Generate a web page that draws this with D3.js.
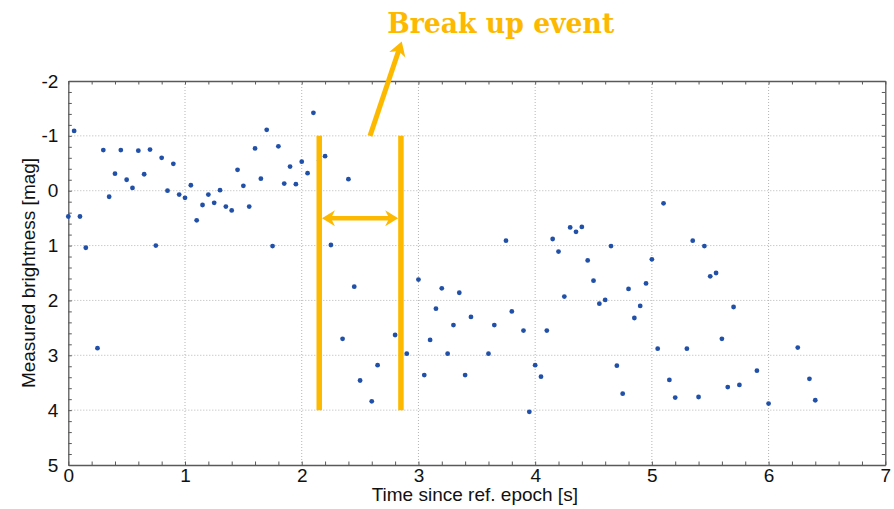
<!DOCTYPE html>
<html>
<head>
<meta charset="utf-8">
<script src="https://cdn.jsdelivr.net/npm/d3@7"></script>
<style>
  html, body { margin: 0; padding: 0; background: #fff; }
  svg { display: block; }
  .tick text { font-family: "Liberation Sans", Arial, sans-serif; }
</style>
</head>
<body>
<svg id="chart" width="894" height="509"></svg>
<script>
// Light curve samples: time since reference epoch [s] and measured magnitude
const times = [
  0.00, 0.05, 0.10, 0.15, 0.25, 0.30, 0.35, 0.40, 0.45, 0.50,
  0.55, 0.60, 0.65, 0.70, 0.75, 0.80, 0.85, 0.90, 0.95, 1.00,
  1.05, 1.10, 1.15, 1.20, 1.25, 1.30, 1.35, 1.40, 1.45, 1.50,
  1.55, 1.60, 1.65, 1.70, 1.75, 1.80, 1.85, 1.90, 1.95, 2.00,
  2.05, 2.10, 2.15, 2.20, 2.25, 2.35, 2.40, 2.45, 2.50, 2.60,
  2.65, 2.80, 2.90, 3.00, 3.05, 3.10, 3.15, 3.20, 3.25, 3.30,
  3.35, 3.40, 3.45, 3.60, 3.65, 3.75, 3.80, 3.90, 3.95, 4.00,
  4.05, 4.10, 4.15, 4.20, 4.25, 4.30, 4.35, 4.40, 4.45, 4.50,
  4.55, 4.60, 4.65, 4.70, 4.75, 4.80, 4.85, 4.90, 4.95, 5.00,
  5.05, 5.10, 5.15, 5.20, 5.30, 5.35, 5.40, 5.45, 5.50, 5.55,
  5.60, 5.65, 5.70, 5.75, 5.90, 6.00, 6.25, 6.35, 6.40
];
const magnitudes = [
  0.47, -1.09, 0.47, 1.04, 2.87, -0.74, 0.11, -0.31, -0.74, -0.20,
  -0.05, -0.73, -0.30, -0.75, 1.00, -0.60, 0.00, -0.49, 0.07, 0.13,
  -0.10, 0.54, 0.26, 0.07, 0.22, -0.01, 0.29, 0.36, -0.38, -0.09,
  0.29, -0.77, -0.22, -1.11, 1.01, -0.81, -0.13, -0.44, -0.12, -0.53,
  -0.32, -1.42, -0.55, -0.63, 0.99, 2.70, -0.21, 1.75, 3.46, 3.84,
  3.18, 2.63, 2.97, 1.62, 3.36, 2.72, 2.15, 1.78, 2.97, 2.45,
  1.86, 3.36, 2.30, 2.97, 2.45, 0.91, 2.20, 2.55, 4.03, 3.18,
  3.39, 2.55, 0.88, 1.11, 1.93, 0.67, 0.75, 0.66, 1.27, 1.64,
  2.06, 1.99, 1.01, 3.19, 3.70, 1.79, 2.32, 2.10, 1.69, 1.25,
  2.88, 0.23, 3.45, 3.77, 2.88, 0.91, 3.76, 1.01, 1.56, 1.50,
  2.70, 3.58, 2.12, 3.54, 3.28, 3.88, 2.86, 3.43, 3.82
];

// Axis ticks
const xTicks = [0, 1, 2, 3, 4, 5, 6, 7];
const yTicks = [-2, -1, 0, 1, 2, 3, 4, 5];
const xTitle = "Time since ref. epoch [s]";
const yTitle = "Measured brightness [mag]";

// Break-up annotation (time window and label)
const breakStart = 2.15;
const breakEnd = 2.85;
const breakMagTop = -1;
const breakMagBottom = 4;
const spanMag = 0.5;
const pointerFrom = [2.585, -1.0];
const pointerTo = [2.857, -2.72];
const breakLabel = "Break up event";
const breakLabelAt = [2.733, -2.88];

const svg = d3.select("#chart");
const W = 894, H = 509;
const margin = { left: 68.3, right: W - 885.3, top: 81, bottom: H - 465 };

const x = d3.scaleLinear().domain([0, 7]).range([margin.left, W - margin.right]);
const y = d3.scaleLinear().domain([-2, 5]).range([margin.top, H - margin.bottom]);

const axisColor = "#595959";
const orange = "#FDB900";
const dotColor = "#2150A8";

// Grid
const grid = svg.append("g").attr("stroke", "#b5b5b5").attr("stroke-width", 1)
  .attr("stroke-dasharray", "1,2");
grid.selectAll("line.gx").data(xTicks.slice(1, -1)).join("line")
  .attr("x1", d => x(d)).attr("x2", d => x(d))
  .attr("y1", y(-2)).attr("y2", y(5));
grid.selectAll("line.gy").data(yTicks.slice(1, -1)).join("line")
  .attr("x1", x(0)).attr("x2", x(7))
  .attr("y1", d => y(d)).attr("y2", d => y(d));

// Inward ticks on all four sides (every 0.2 units)
const xMinor = d3.range(0, 7.001, 0.2).map(v => +v.toFixed(2));
const yMinor = d3.range(-2, 5.001, 0.2).map(v => +v.toFixed(2));
const tickLen = 3.5;

function frameAxis(axis, transform) {
  const g = svg.append("g").attr("transform", transform).call(axis);
  g.selectAll("path, line").attr("stroke", axisColor);
  g.select("path.domain").attr("stroke-width", 1.3);
  g.selectAll("text").remove();
  return g;
}
frameAxis(d3.axisBottom(x).tickValues(xMinor).tickSizeInner(-tickLen).tickSizeOuter(0),
  `translate(0,${y(5)})`);
frameAxis(d3.axisTop(x).tickValues(xMinor).tickSizeInner(-tickLen).tickSizeOuter(0),
  `translate(0,${y(-2)})`);
frameAxis(d3.axisLeft(y).tickValues(yMinor).tickSizeInner(-tickLen).tickSizeOuter(0),
  `translate(${x(0)},0)`);
frameAxis(d3.axisRight(y).tickValues(yMinor).tickSizeInner(-tickLen).tickSizeOuter(0),
  `translate(${x(7)},0)`);

// Tick labels
const xLab = svg.append("g").attr("transform", `translate(0,${y(5)})`)
  .call(d3.axisBottom(x).tickValues(xTicks).tickSize(0).tickPadding(3).tickFormat(d3.format("d")));
xLab.select("path.domain").remove();
xLab.selectAll("text").attr("font-size", 19).attr("fill", "#111");

const yLab = svg.append("g").attr("transform", `translate(${x(0)},0)`)
  .call(d3.axisLeft(y).tickValues(yTicks).tickSize(0).tickPadding(10).tickFormat(d => d < 0 ? "-" + Math.abs(d) : String(d)));
yLab.select("path.domain").remove();
yLab.selectAll("text").attr("font-size", 19).attr("fill", "#111");

// Axis titles
svg.append("text")
  .attr("x", (x(0) + x(7)) / 2 - 2).attr("y", 501)
  .attr("text-anchor", "middle")
  .attr("font-family", "'Liberation Sans', Arial, sans-serif")
  .attr("font-size", 19).attr("fill", "#111")
  .text(xTitle);
svg.append("text")
  .attr("transform", `translate(34.5,${(y(-2) + y(5)) / 2}) rotate(-90)`)
  .attr("text-anchor", "middle")
  .attr("font-family", "'Liberation Sans', Arial, sans-serif")
  .attr("font-size", 19).attr("fill", "#111")
  .text(yTitle);

// Data points
svg.append("g").selectAll("circle")
  .data(times.map((t, i) => ({ t, m: magnitudes[i] })))
  .join("circle")
  .attr("cx", d => x(d.t)).attr("cy", d => y(d.m))
  .attr("r", 2.4).attr("fill", dotColor);

// Annotation
const ann = svg.append("g");
const lineW = 5.5;

// Notched arrow head with its tip at (tx,ty), pointing along (dx,dy)
function headPath(tx, ty, dx, dy, len = 13, half = 8, notch = 4) {
  const n = Math.hypot(dx, dy); const ux = dx / n, uy = dy / n;
  const px = -uy, py = ux;
  const bx = tx - ux * len, by = ty - uy * len;
  const nx = tx - ux * (len - notch), ny = ty - uy * (len - notch);
  return `M${tx},${ty}L${bx + px * half},${by + py * half}L${nx},${ny}L${bx - px * half},${by - py * half}Z`;
}

[breakStart, breakEnd].forEach(t => {
  ann.append("line")
    .attr("x1", x(t)).attr("x2", x(t))
    .attr("y1", y(breakMagTop)).attr("y2", y(breakMagBottom))
    .attr("stroke", orange).attr("stroke-width", lineW);
});

// Double-headed span arrow between the two markers
const ax1 = x(breakStart) + lineW / 2, ax2 = x(breakEnd) - lineW / 2, ay = y(spanMag);
ann.append("line")
  .attr("x1", ax1 + 9).attr("x2", ax2 - 9).attr("y1", ay).attr("y2", ay)
  .attr("stroke", orange).attr("stroke-width", 4.5);
ann.append("path").attr("d", headPath(ax1, ay, -1, 0)).attr("fill", orange);
ann.append("path").attr("d", headPath(ax2, ay, 1, 0)).attr("fill", orange);

// Pointer to the label
const p0 = [x(pointerFrom[0]), y(pointerFrom[1])];
const p1 = [x(pointerTo[0]), y(pointerTo[1])];
const dx = p1[0] - p0[0], dy = p1[1] - p0[1];
const dn = Math.hypot(dx, dy);
ann.append("line")
  .attr("x1", p0[0]).attr("y1", p0[1])
  .attr("x2", p1[0] - dx / dn * 9).attr("y2", p1[1] - dy / dn * 9)
  .attr("stroke", orange).attr("stroke-width", 5);
ann.append("path").attr("d", headPath(p1[0], p1[1], dx, dy, 14, 8.5, 4)).attr("fill", orange);

ann.append("text")
  .attr("x", x(breakLabelAt[0])).attr("y", y(breakLabelAt[1]))
  .attr("font-family", "'DejaVu Serif', serif")
  .attr("font-weight", "bold").attr("font-size", 28)
  .attr("textLength", 227).attr("lengthAdjust", "spacingAndGlyphs")
  .attr("fill", orange)
  .text(breakLabel);
</script>
</body>
</html>
